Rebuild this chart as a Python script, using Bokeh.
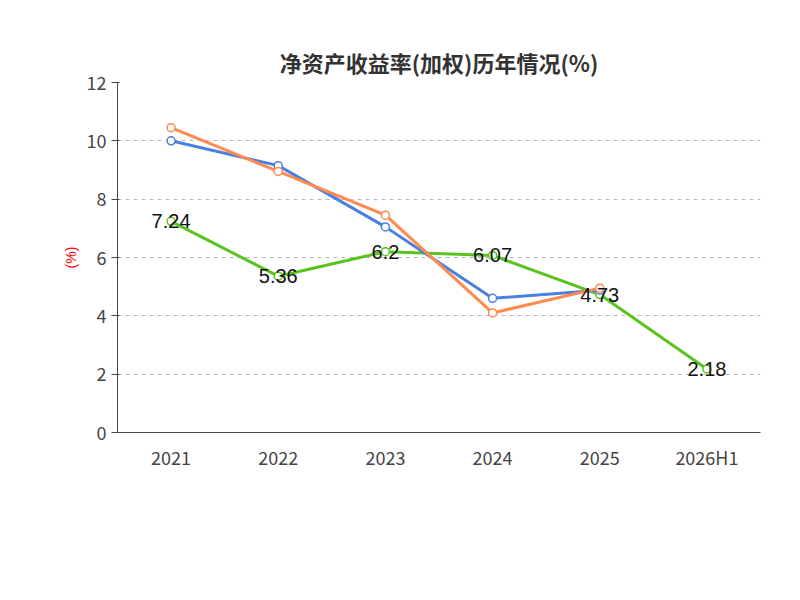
from bokeh.plotting import figure
from bokeh.models import Legend, LegendItem, Label, ColumnDataSource
from bokeh.embed import file_html
from bokeh.resources import INLINE

years = ["2021", "2022", "2023", "2024", "2025", "2026H1"]
company = [7.24, 5.36, 6.2, 6.07, 4.73, 2.18]
ind_avg = [10.0, 9.15, 7.05, 4.6, 4.88]
ind_med = [10.45, 8.95, 7.45, 4.1, 4.95]

F = "Noto Sans CJK SC"
p = figure(x_range=years, y_range=(0, 12), width=784, height=584,
           output_backend="svg", toolbar_location=None,
           min_border_left=117, min_border_right=24, min_border_top=82, min_border_bottom=152)
p.outline_line_color = None
p.xgrid.grid_line_color = None
p.ygrid.grid_line_dash = "4 4"
p.ygrid.grid_line_color = "#bbbbbb"
p.yaxis.ticker = [0, 2, 4, 6, 8, 10, 12]
for ax in (p.xaxis, p.yaxis):
    ax.major_label_text_font = F
    ax.major_label_text_font_size = "18px"
    ax.major_label_text_color = "#444444"
    ax.axis_line_color = "#444444"
    ax.major_tick_line_color = "#444444"
    ax.minor_tick_line_color = None
p.xaxis.major_tick_line_color = None
p.yaxis.axis_label = "(%)"
p.yaxis.axis_label_text_color = "red"
p.yaxis.axis_label_text_font_style = "normal"
p.yaxis.axis_label_text_font_size = "14px"

p.title.text = "净资产收益率(加权)历年情况(%)"
p.title.text_font = F
p.title.text_font_size = "22px"
p.title.align = "center"
p.title.text_color = "#333333"
p.title.offset = -20

cols = ["#5bc31f", "#4a80e0", "#ff8a50"]
series = [(company, "公司净资产收益率(加权)"), (ind_avg, "行业均值"), (ind_med, "行业中位数")]
items = []
for (vals, name), c in zip(series, cols):
    src = ColumnDataSource(dict(x=years[:len(vals)], y=vals))
    l = p.line("x", "y", source=src, line_color=c, line_width=3)
    m = p.scatter("x", "y", source=src, size=8, fill_color="white", line_color=c, line_width=1.5)
    items.append(LegendItem(label=name, renderers=[l, m]))

lsrc = ColumnDataSource(dict(x=years, y=company, t=[str(v) for v in company]))
p.text("x", "y", text="t", source=lsrc, text_align="center", text_baseline="middle",
       text_font_size="20px", text_color="#111111")

legend = Legend(items=items, orientation="horizontal", location=(-80, -118),
                label_text_font=F, label_text_font_size="20px", label_text_color="#333333",
                border_line_color=None, background_fill_alpha=0,
                glyph_width=50, glyph_height=20, spacing=20)
p.add_layout(legend, "center")
p.add_layout(Label(x=3.0, y=-5.1, text="制图数据来自恒生聚源数据库", text_align="center",
                   text_baseline="middle", text_color="#c8a040", text_font=F,
                   text_font_size="15px"))

open("out.html", "w").write(file_html(p, INLINE))
